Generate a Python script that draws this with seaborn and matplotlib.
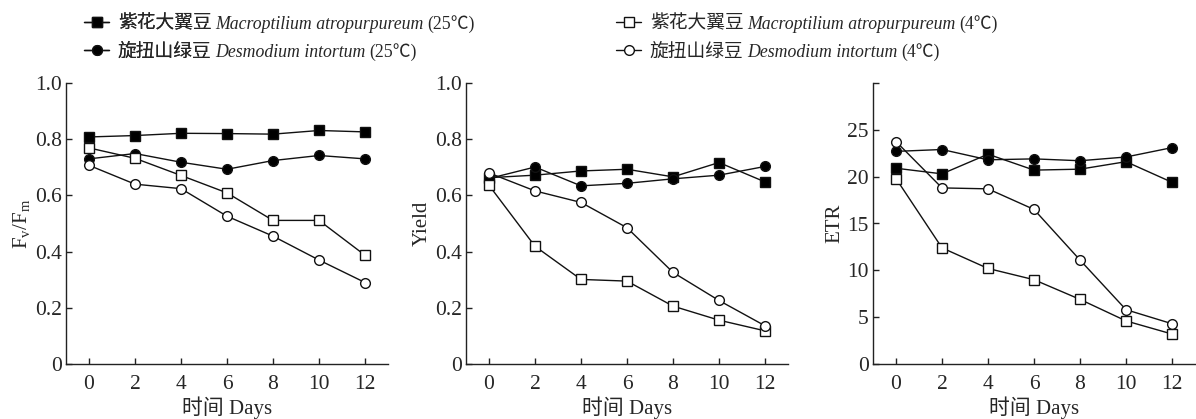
import numpy as np
import pandas as pd
import matplotlib
matplotlib.use("Agg")
import matplotlib.pyplot as plt
from matplotlib.transforms import IdentityTransform
import seaborn as sns

days = [0, 2, 4, 6, 8, 10, 12]

label_cn = ["紫花大翼豆", "旋扭山绿豆", "紫花大翼豆", "旋扭山绿豆"]
label_latin = ["Macroptilium atropurpureum", "Desmodium intortum",
               "Macroptilium atropurpureum", "Desmodium intortum"]
label_temp = ["(25℃)", "(25℃)", "(4℃)", "(4℃)"]

fvfm_ma25 = [0.808, 0.813, 0.821, 0.820, 0.818, 0.831, 0.826]
fvfm_di25 = [0.730, 0.749, 0.718, 0.693, 0.724, 0.742, 0.730]
fvfm_ma4 = [0.769, 0.732, 0.671, 0.609, 0.511, 0.511, 0.387]
fvfm_di4 = [0.707, 0.640, 0.624, 0.526, 0.455, 0.370, 0.290]

yield_ma25 = [0.663, 0.672, 0.687, 0.693, 0.666, 0.717, 0.648]
yield_di25 = [0.660, 0.701, 0.634, 0.643, 0.659, 0.672, 0.703]
yield_ma4 = [0.636, 0.419, 0.301, 0.295, 0.206, 0.156, 0.118]
yield_di4 = [0.680, 0.616, 0.575, 0.485, 0.326, 0.226, 0.136]

etr_ma25 = [20.9, 20.3, 22.4, 20.7, 20.8, 21.6, 19.4]
etr_di25 = [22.7, 22.9, 21.8, 21.9, 21.7, 22.1, 23.1]
etr_ma4 = [19.8, 12.4, 10.2, 9.0, 6.9, 4.6, 3.2]
etr_di4 = [23.75, 18.8, 18.7, 16.5, 11.1, 5.8, 4.3]

sns.set_style("ticks")
FAM = ['Liberation Serif', 'Noto Sans CJK SC']
plt.rcParams['font.family'] = FAM
plt.rcParams['mathtext.fontset'] = 'custom'
plt.rcParams['mathtext.it'] = 'Liberation Serif:italic'
plt.rcParams['mathtext.rm'] = 'Liberation Serif'
plt.rcParams['axes.unicode_minus'] = False

axis_col = '#222222'
styles = [
    dict(marker='s', mfc='black'),
    dict(marker='o', mfc='black'),
    dict(marker='s', mfc='white'),
    dict(marker='o', mfc='white'),
]

fig = plt.figure(figsize=(11.96, 4.19), dpi=100)
W, H = 1196, 419
lefts = [66, 466, 873]
axes = [fig.add_axes([l / W, (419 - 364) / H, 322 / W, 281 / H]) for l in lefts]

panels = [
    ([fvfm_ma25, fvfm_di25, fvfm_ma4, fvfm_di4], 'F$_\\mathrm{v}$/F$_\\mathrm{m}$', (0, 1.0), [0, 0.2, 0.4, 0.6, 0.8, 1.0], ['0', '0.2', '0.4', '0.6', '0.8', '1.0']),
    ([yield_ma25, yield_di25, yield_ma4, yield_di4], 'Yield', (0, 1.0), [0, 0.2, 0.4, 0.6, 0.8, 1.0], ['0', '0.2', '0.4', '0.6', '0.8', '1.0']),
    ([etr_ma25, etr_di25, etr_ma4, etr_di4], 'ETR', (0, 30), [0, 5, 10, 15, 20, 25, 30], ['0', '5', '10', '15', '20', '25', '']),
]

for ax, (vals, ylab, ylim, yt, ytl) in zip(axes, panels):
    for i, (v, st) in enumerate(zip(vals, styles)):
        df = pd.DataFrame({'day': days, 'val': v})
        sns.lineplot(data=df, x='day', y='val', ax=ax, color='#111111', linewidth=1.0,
                     marker=st['marker'], markerfacecolor=st['mfc'], markeredgecolor='#111111',
                     markeredgewidth=1.0, markersize=7, zorder=3 + i)
    ax.set_xlim(-1, 13)
    ax.set_ylim(*ylim)
    ax.set_xticks(days)
    ax.set_xticklabels([str(d) for d in days])
    ax.set_yticks(yt)
    ax.set_yticklabels(ytl)
    ax.set_xlabel('时间 Days', fontsize=15, labelpad=2)
    ax.set_ylabel(ylab, fontsize=15, labelpad=2)
    for s in ['top', 'right']:
        ax.spines[s].set_visible(False)
    for s in ['left', 'bottom']:
        ax.spines[s].set_color(axis_col)
        ax.spines[s].set_linewidth(1.0)
    ax.tick_params(direction='in', length=4, width=1.0, color=axis_col, labelsize=15.5)
    ax.tick_params(axis='y', pad=3)
    ax.tick_params(axis='x', pad=8)

handles = axes[0].get_lines()[:4]

LFS = 13.5
LAT_FS = 12.8
leg_kw = dict(loc='upper left', frameon=False, fontsize=LFS, handlelength=1.35,
              handletextpad=0.45, labelspacing=0.6, borderpad=0, borderaxespad=0)
leg1 = fig.legend(handles[:2], label_cn[:2], bbox_to_anchor=(84 / W, 1 - 15 / H), **leg_kw)
leg2 = fig.legend(handles[2:], label_cn[2:], bbox_to_anchor=(616 / W, 1 - 15 / H), **leg_kw)
fig.add_artist(leg1)

fig.canvas.draw()
renderer = fig.canvas.get_renderer()
space = LAT_FS * 100 / 72 * 0.22
leg_texts = leg1.get_texts() + leg2.get_texts()
for t, lat, tmp in zip(leg_texts, label_latin, label_temp):
    bb = t.get_window_extent(renderer)
    x0, y0 = t.get_transform().transform(t.get_position())
    it = fig.text(bb.x1 + space, y0, lat, transform=IdentityTransform(), va='baseline',
                  ha='left', fontsize=LAT_FS, fontstyle='italic', family=FAM)
    bb2 = it.get_window_extent(renderer)
    fig.text(bb2.x1 + space, y0, tmp, transform=IdentityTransform(), va='baseline',
             ha='left', fontsize=LAT_FS, family=FAM)

fig.savefig('out.png', dpi=100)
